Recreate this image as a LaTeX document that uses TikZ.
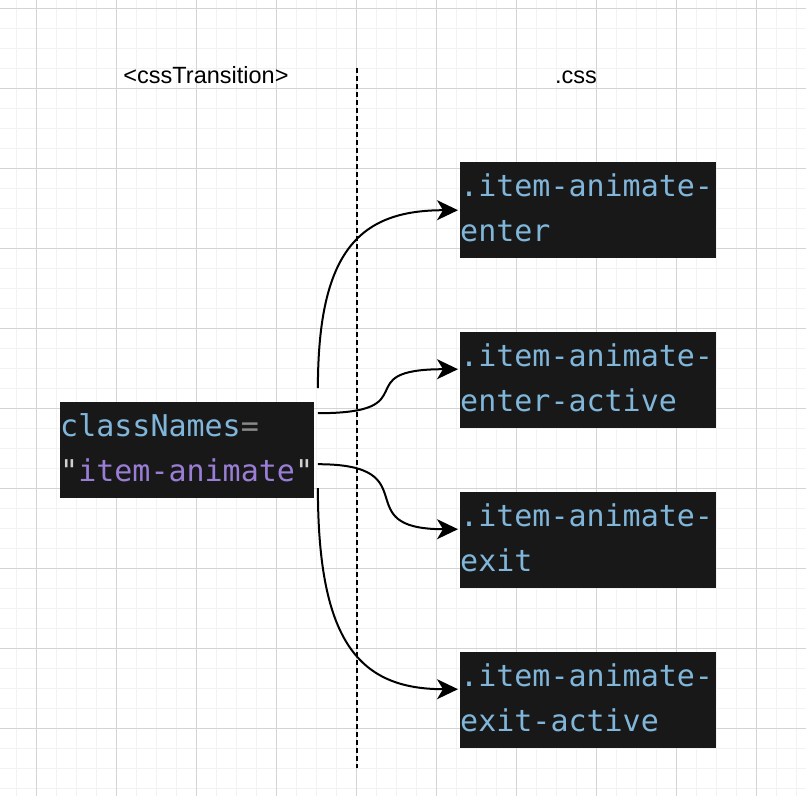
\documentclass[tikz,border=0pt]{standalone}
\usepackage{fontspec}
\setmainfont{Liberation Sans}
\newfontfamily\codefont{DejaVu Sans Mono}
\usetikzlibrary{arrows.meta}

\definecolor{gridminor}{HTML}{F2F2F2}
\definecolor{gridmajor}{HTML}{D4D4D4}
\definecolor{codebg}{HTML}{181818}
\definecolor{codeblue}{HTML}{80B6DA}
\definecolor{codepurple}{HTML}{9A7ED6}
\definecolor{codegray}{HTML}{8A8A8A}
\definecolor{codequote}{HTML}{D0D0D0}

\begin{document}
\begin{tikzpicture}[x=1pt, y=-1pt,
    minorline/.style={draw=gridminor, line width=1pt},
    majorline/.style={draw=gridmajor, line width=1pt},
    heading/.style={font=\fontsize{23.5}{28}\selectfont, anchor=base, inner sep=0pt},
    code/.style={fill=codebg, text=codeblue, anchor=north west, inner xsep=0pt, inner ysep=3pt,
        align=left, text width=256, font=\codefont\fontsize{30}{45}\selectfont},
    divider/.style={line width=2pt, dash pattern=on 5pt off 3pt},
    link/.style={line width=2pt, shorten >=2pt, -{Stealth[length=21pt, width=20pt, inset=6pt]}},
    ]
  \useasboundingbox (0,0) rectangle (806,796);
  \fill[white] (0,0) rectangle (806,796);

  % grid
  \foreach \x in {16,36,...,796} \draw[minorline] (\x,0) -- (\x,796);
  \foreach \y in {8,28,...,788} \draw[minorline] (0,\y) -- (806,\y);
  \foreach \x in {36,116,...,756} \draw[majorline] (\x,0) -- (\x,796);
  \foreach \y in {8,88,...,728} \draw[majorline] (0,\y) -- (806,\y);

  % headings and divider
  \node[heading] (lefthead) at (206,83) {<cssTransition>};
  \node[heading] (righthead) at (576,83) {.css};
  \coordinate (divtop) at (357,68);
  \coordinate (divbot) at (357,768);
  \draw[divider] (divtop) -- (divbot);

  % code boxes
  \node[code, text width=253.5] (names) at (60,402)
      {\strut classNames\textcolor{codegray}{=}\\\strut\textcolor{codequote}{"}\textcolor{codepurple}{item-animate}\textcolor{codequote}{"}};
  \node[code] (enter) at (460,162) {\strut.item-animate-\\\strut enter};
  \node[code] (enteractive) at (460,332) {\strut.item-animate-\\\strut enter-active};
  \node[code] (exit) at (460,492) {\strut.item-animate-\\\strut exit};
  \node[code] (exitactive) at (460,652) {\strut.item-animate-\\\strut exit-active};

  % connectors
  \draw[link] ([xshift=4pt, yshift=62pt]names.east) .. controls +(0,-138) and +(-100,0) .. (enter.west);
  \draw[link] ([xshift=4pt, yshift=37pt]names.east) .. controls +(112,0) and +(-115,0) .. ([yshift=11pt]enteractive.west);
  \draw[link] ([xshift=4pt, yshift=-14pt]names.east) .. controls +(112,0) and +(-115,0) .. ([yshift=11pt]exit.west);
  \draw[link] ([xshift=4pt, yshift=-38pt]names.east) .. controls +(0,155) and +(-100,0) .. ([yshift=11pt]exitactive.west);
\end{tikzpicture}
\end{document}
